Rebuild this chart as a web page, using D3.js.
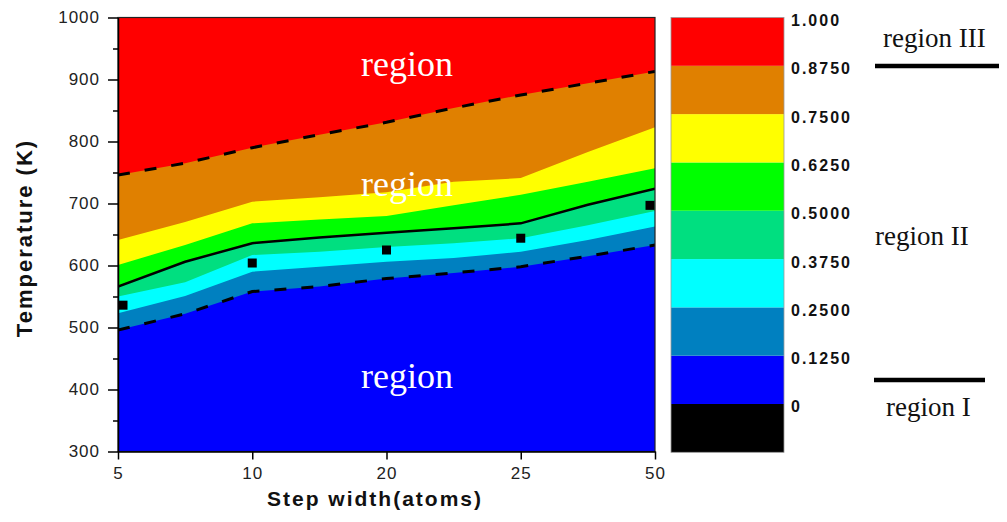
<!DOCTYPE html>
<html>
<head>
<meta charset="utf-8">
<script src="https://cdn.jsdelivr.net/npm/d3@7"></script>
<style>
  html, body { margin: 0; padding: 0; background: #fff; }
  svg { display: block; }
</style>
</head>
<body>
<svg id="chart" width="1007" height="522"></svg>
<script>
// Step widths (atoms) along the horizontal axis
const stepWidths = ["5", "10", "20", "25", "50"];
// Knot positions along the step-width axis (category index), used for the contour boundaries
const knots = [0, 0.5, 1, 1.5, 2, 2.5, 3, 3.5, 4];

// Temperature (K) of each contour boundary at every knot
const level0125 = [496, 522, 558, 566, 579, 588, 598, 615, 633];
const level0250 = [523, 551, 590, 598, 606, 612, 622, 641, 663];
const level0375 = [550, 573, 617, 622, 630, 636, 644, 665, 688];
const level0500 = [566, 606, 636, 645, 653, 660, 668, 698, 724];
const level0625 = [601, 633, 668, 674, 680, 697, 714, 735, 757];
const level0750 = [641, 670, 703, 710, 718, 735, 741, 783, 823];
const level0875 = [746, 765, 790, 811, 831, 854, 875, 894, 913];

// Measured transition temperatures (square markers), one per step width
const measuredT = [536, 604, 625, 644, 697];

// Colour scale levels and labels
const colorLevels = [-0.125, 0, 0.125, 0.25, 0.375, 0.5, 0.625, 0.75, 0.875, 1.0];
const colorLabels = ["0", "0.1250", "0.2500", "0.3750", "0.5000", "0.6250", "0.7500", "0.8750", "1.000"];
const bandColors = ["#000000", "#0000FF", "#0080C0", "#00FFFF", "#00DF80", "#00FF00", "#FFFF00", "#E08000", "#FF0000"];

const yTicks = [300, 400, 500, 600, 700, 800, 900, 1000];
const yMinorTicks = [350, 450, 550, 650, 750, 850, 950];

const svg = d3.select("#chart");
const plotL = 118, plotR = 655, plotT = 17.5, plotB = 451.5;

const x = d3.scaleLinear().domain([0, stepWidths.length - 1]).range([plotL, plotR]);
const y = d3.scaleLinear().domain([300, 1000]).range([plotB, plotT]);

svg.append("defs").append("clipPath").attr("id", "plotClip")
  .append("rect").attr("x", plotL).attr("y", plotT)
  .attr("width", plotR - plotL).attr("height", plotB - plotT);

const plot = svg.append("g").attr("clip-path", "url(#plotClip)");

// Filled contour bands: each level fills from its boundary up to the top,
// painted from the lowest level upwards.
const boundaries = [level0125, level0250, level0375, level0500, level0625, level0750, level0875];
const toPts = temps => knots.map((k, j) => ({ k, t: temps[j] }));

plot.append("path")
  .datum(knots.map(k => ({ k, t: 300 })))
  .attr("fill", bandColors[1])
  .attr("d", d3.area().x(d => x(d.k)).y0(y(1000)).y1(d => y(d.t)));

boundaries.forEach((temps, i) => {
  plot.append("path")
    .datum(toPts(temps))
    .attr("fill", bandColors[i + 2])
    .attr("d", d3.area().x(d => x(d.k)).y0(y(1000)).y1(d => y(d.t)));
});

const line = d3.line().x(d => x(d.k)).y(d => y(d.t));

// Dashed boundaries of region II and the solid 0.5 contour
plot.append("path").datum(toPts(level0875))
  .attr("fill", "none").attr("stroke", "#000").attr("stroke-width", 3)
  .attr("stroke-dasharray", "12 15").attr("d", line);
plot.append("path").datum(toPts(level0125))
  .attr("fill", "none").attr("stroke", "#000").attr("stroke-width", 3)
  .attr("stroke-dasharray", "12 15").attr("d", line);
plot.append("path").datum(toPts(level0500))
  .attr("fill", "none").attr("stroke", "#000").attr("stroke-width", 2.5)
  .attr("d", line);

// Measured points, kept fully inside the frame
const sq = 9;
plot.selectAll("rect.pt").data(measuredT).enter().append("rect")
  .attr("class", "pt")
  .attr("x", (d, i) => Math.min(Math.max(x(i), plotL + sq / 2 + 0.5), plotR - sq / 2 - 0.5) - sq / 2)
  .attr("y", d => y(d) - sq / 2)
  .attr("width", sq).attr("height", sq)
  .attr("fill", "#000");

// In-plot region labels
const regionLabels = [
  { t: 906, text: "region" },
  { t: 712, text: "region" },
  { t: 402, text: "region" }
];
svg.selectAll("text.region").data(regionLabels).enter().append("text")
  .attr("class", "region")
  .attr("x", 407).attr("y", d => y(d.t))
  .attr("text-anchor", "middle")
  .attr("font-family", "'Liberation Serif', 'Times New Roman', serif")
  .attr("font-size", 36).attr("fill", "#fff")
  .text(d => d.text);

// Frame
svg.append("rect").attr("x", plotL).attr("y", plotT)
  .attr("width", plotR - plotL).attr("height", plotB - plotT)
  .attr("fill", "none").attr("stroke", "#222").attr("stroke-width", 1.2);

// Axes
const yAxis = svg.append("g").attr("transform", `translate(${plotL},0)`)
  .call(d3.axisLeft(y).tickValues(yTicks).tickSize(10).tickSizeOuter(0).tickPadding(8).tickFormat(d3.format("d")));
const yMinor = svg.append("g").attr("transform", `translate(${plotL},0)`)
  .call(d3.axisLeft(y).tickValues(yMinorTicks).tickSize(5).tickSizeOuter(0).tickFormat(""));
const xAxis = svg.append("g").attr("transform", `translate(0,${plotB})`)
  .call(d3.axisBottom(x).tickValues(d3.range(stepWidths.length)).tickSize(8).tickSizeOuter(0).tickPadding(7)
    .tickFormat(i => stepWidths[i]));

[yAxis, yMinor, xAxis].forEach(g => {
  g.select(".domain").attr("stroke", "#000").attr("stroke-width", 1.5);
  g.selectAll(".tick line").attr("stroke", "#000").attr("stroke-width", 1.5);
  g.selectAll(".tick text")
    .attr("font-family", "'Liberation Sans', Arial, sans-serif")
    .attr("font-size", 17).attr("fill", "#222")
    .attr("letter-spacing", "1px");
});
yMinor.select(".domain").remove();

// Axis titles
svg.append("text")
  .attr("x", 375).attr("y", 506)
  .attr("text-anchor", "middle")
  .attr("font-family", "'Liberation Sans', Arial, sans-serif")
  .attr("font-weight", "bold").attr("font-size", 21)
  .attr("letter-spacing", "2px").attr("fill", "#111")
  .text("Step width(atoms)");

svg.append("text")
  .attr("transform", "translate(32,238) rotate(-90)")
  .attr("text-anchor", "middle")
  .attr("font-family", "'Liberation Sans', Arial, sans-serif")
  .attr("font-weight", "bold").attr("font-size", 22)
  .attr("letter-spacing", "2px").attr("fill", "#111")
  .text("Temperature (K)");

// Colour scale bar
const cb = d3.scaleLinear().domain([-0.125, 1.0]).range([452.3, 17.5]);
const cbX = 671, cbW = 113;
const cbBands = bandColors.map((c, i) => ({ lo: colorLevels[i], hi: colorLevels[i + 1], c }));
svg.selectAll("rect.band").data(cbBands).enter().append("rect")
  .attr("class", "band")
  .attr("x", cbX).attr("y", d => cb(d.hi))
  .attr("width", cbW).attr("height", d => cb(d.lo) - cb(d.hi))
  .attr("fill", d => d.c);
svg.append("rect").attr("x", cbX).attr("y", cb(1.0))
  .attr("width", cbW).attr("height", cb(-0.125) - cb(1.0))
  .attr("fill", "none").attr("stroke", "#999").attr("stroke-width", 0.8);

svg.selectAll("text.cbl").data(colorLabels).enter().append("text")
  .attr("class", "cbl")
  .attr("x", 791).attr("y", (d, i) => cb(colorLevels[i + 1]) + 3)
  .attr("dominant-baseline", "central")
  .attr("font-family", "'Liberation Sans', Arial, sans-serif")
  .attr("font-weight", "bold").attr("font-size", 16)
  .attr("letter-spacing", "2px").attr("fill", "#111")
  .text(d => d);

// Region annotations beside the colour scale
const sideLabels = [
  { x: 883, y: 47, text: "region III" },
  { x: 875, y: 245, text: "region II" },
  { x: 886, y: 416, text: "region I" }
];
svg.selectAll("text.side").data(sideLabels).enter().append("text")
  .attr("class", "side")
  .attr("x", d => d.x).attr("y", d => d.y)
  .attr("font-family", "'Liberation Serif', 'Times New Roman', serif")
  .attr("font-size", 27).attr("fill", "#111")
  .text(d => d.text);

const sideRules = [
  { x1: 875, x2: 999, y: 66 },
  { x1: 874, x2: 985, y: 380 }
];
svg.selectAll("line.rule").data(sideRules).enter().append("line")
  .attr("class", "rule")
  .attr("x1", d => d.x1).attr("x2", d => d.x2)
  .attr("y1", d => d.y).attr("y2", d => d.y)
  .attr("stroke", "#000").attr("stroke-width", 4.5);
</script>
</body>
</html>
